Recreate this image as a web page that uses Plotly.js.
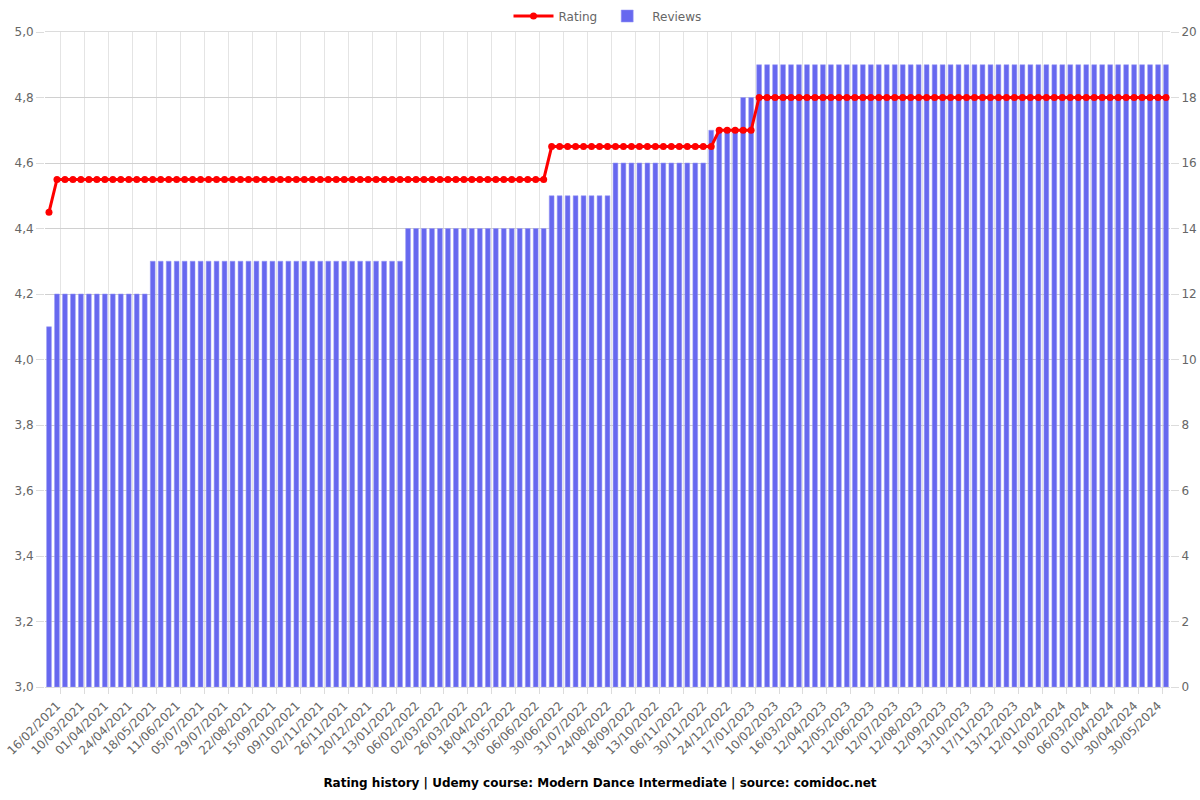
<!DOCTYPE html>
<html>
<head>
<meta charset="utf-8">
<script src="https://cdn.plot.ly/plotly-3.0.1.min.js"></script>
<style>html,body{margin:0;padding:0;background:#fff}#chart{width:1200px;height:800px}</style>
</head>
<body>
<div id="chart"></div>
<script>
// Tick labels (every third observation)
const tickLabels = ["16/02/2021","10/03/2021","01/04/2021","24/04/2021","18/05/2021","11/06/2021","05/07/2021","29/07/2021","22/08/2021","15/09/2021","09/10/2021","02/11/2021","26/11/2021","20/12/2021","13/01/2022","06/02/2022","02/03/2022","26/03/2022","18/04/2022","13/05/2022","06/06/2022","30/06/2022","31/07/2022","24/08/2022","18/09/2022","13/10/2022","06/11/2022","30/11/2022","24/12/2022","17/01/2023","10/02/2023","16/03/2023","12/04/2023","12/05/2023","12/06/2023","12/07/2023","12/08/2023","12/09/2023","13/10/2023","17/11/2023","13/12/2023","12/01/2024","10/02/2024","06/03/2024","01/04/2024","30/04/2024","30/05/2024"];

// Rating per observation (141 points)
const rating = [
4.45,
4.55,4.55,4.55,4.55,4.55,4.55,4.55,4.55,4.55,4.55,
4.55,4.55,4.55,4.55,4.55,4.55,4.55,4.55,4.55,4.55,
4.55,4.55,4.55,4.55,4.55,4.55,4.55,4.55,4.55,4.55,
4.55,4.55,4.55,4.55,4.55,4.55,4.55,4.55,4.55,4.55,
4.55,4.55,4.55,4.55,4.55,4.55,4.55,4.55,4.55,4.55,
4.55,4.55,4.55,4.55,4.55,4.55,4.55,4.55,4.55,4.55,
4.55,4.55,
4.65,4.65,4.65,4.65,4.65,4.65,4.65,4.65,4.65,4.65,
4.65,4.65,4.65,4.65,4.65,4.65,4.65,4.65,4.65,4.65,4.65,
4.70,4.70,4.70,4.70,4.70,
4.80,4.80,4.80,4.80,4.80,4.80,4.80,4.80,4.80,4.80,
4.80,4.80,4.80,4.80,4.80,4.80,4.80,4.80,4.80,4.80,
4.80,4.80,4.80,4.80,4.80,4.80,4.80,4.80,4.80,4.80,
4.80,4.80,4.80,4.80,4.80,4.80,4.80,4.80,4.80,4.80,
4.80,4.80,4.80,4.80,4.80,4.80,4.80,4.80,4.80,4.80,
4.80,4.80
];

// Number of reviews per observation (141 points)
const reviews = [
11,
12,12,12,12,12,12,12,12,12,12,12,12,
13,13,13,13,13,13,13,13,13,13,13,13,13,13,13,13,
13,13,13,13,13,13,13,13,13,13,13,13,13,13,13,13,
14,14,14,14,14,14,14,14,14,14,14,14,14,14,14,14,14,14,
15,15,15,15,15,15,15,15,
16,16,16,16,16,16,16,16,16,16,16,16,
17,17,17,17,
18,18,
19,19,19,19,19,19,19,19,19,19,
19,19,19,19,19,19,19,19,19,19,
19,19,19,19,19,19,19,19,19,19,
19,19,19,19,19,19,19,19,19,19,
19,19,19,19,19,19,19,19,19,19,
19,19
];

const xs = rating.map((_, i) => i);
// grid lines / tick marks sit half a band to the right of each labelled observation
const tickVals = tickLabels.map((_, k) => 1.5 + 3 * k);

const tickFont = {family: "DejaVu Sans, sans-serif", size: 12, color: "#666"};

const data = [
  {
    type: "bar", name: "Reviews", x: xs, y: reviews, yaxis: "y",
    width: 0.6,
    marker: {color: "#6768ef", line: {color: "rgba(150,150,245,0.9)", width: 0.6}},
    legendrank: 2, hoverinfo: "y"
  },
  {
    type: "scatter", mode: "lines+markers", name: "Rating", x: xs, y: rating, yaxis: "y2",
    line: {color: "#ff0000", width: 3},
    marker: {color: "#ff0000", size: 7},
    legendrank: 1, hoverinfo: "y"
  }
];

const layout = {
  width: 1200, height: 800,
  margin: {l: 45, r: 30, t: 32, b: 113},
  paper_bgcolor: "#fff", plot_bgcolor: "#fff",
  separators: ", ",
  font: {family: "DejaVu Sans, sans-serif", size: 12, color: "#666"},
  showlegend: true,
  legend: {
    orientation: "h", x: 0.5, xanchor: "center",
    yref: "container", y: 0.98, yanchor: "middle",
    font: {family: "DejaVu Sans, sans-serif", size: 12, color: "#666"},
    traceorder: "normal", itemwidth: 40
  },
  title: {
    text: "<b>Rating history | Udemy course: Modern Dance Intermediate | source: comidoc.net</b>",
    font: {family: "DejaVu Sans, sans-serif", size: 12, color: "#000"},
    x: 0.5, xanchor: "center", yref: "container", y: 0.021, yanchor: "middle"
  },
  xaxis: {
    range: [-0.5, xs.length - 0.5],
    tickmode: "array", tickvals: tickVals, ticktext: tickLabels,
    tickangle: -45, tickfont: tickFont, ticklabelshift: -4,
    showgrid: true, gridcolor: "#e4e4e4", gridwidth: 1,
    ticks: "outside", ticklen: 6, tickcolor: "#dcdcdc",
    zeroline: false,
    showline: true, linecolor: "#dcdcdc", linewidth: 1, mirror: true
  },
  yaxis: {
    side: "right", range: [0, 20], dtick: 2, tickfont: tickFont,
    showgrid: true, gridcolor: "#d0d0d0", zeroline: false,
    ticks: "outside", ticklen: 8, tickcolor: "#dcdcdc",
    showline: false
  },
  yaxis2: {
    side: "left", overlaying: "y", range: [3, 5], dtick: 0.2, tickformat: ".1f",
    tickfont: tickFont, showgrid: false, zeroline: false,
    ticks: "outside", ticklen: 8, tickcolor: "#dcdcdc",
    showline: false
  },
  bargap: 0
};

Plotly.newPlot("chart", data, layout, {displayModeBar: false, staticPlot: true});
</script>
</body>
</html>
